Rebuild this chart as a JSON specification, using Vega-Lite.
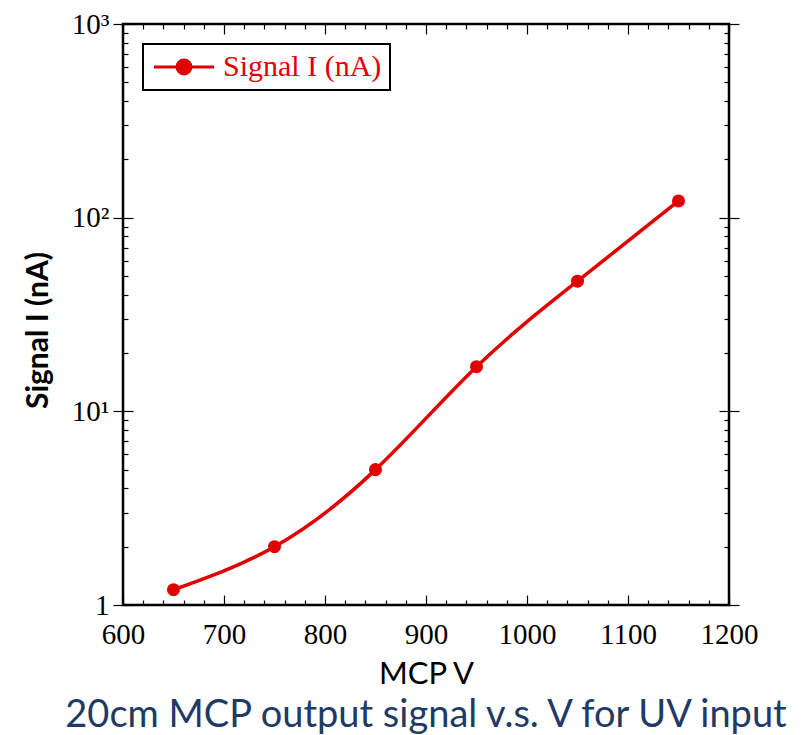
{
  "$schema": "https://vega.github.io/schema/vega-lite/v6.json",
  "autosize": {"type": "none"},
  "width": 606,
  "height": 581,
  "padding": {"left": 123, "top": 24, "right": 73, "bottom": 130},
  "background": "white",
  "title": {"text": "20cm MCP output signal v.s. V for UV input", "orient": "bottom", "anchor": "middle", "font": "Lato", "fontSize": 38, "fontWeight": "normal", "color": "#1f3a64", "offset": 8},
  "data": {"values": [
    {"v": 650, "i": 1.2, "s": "Signal I (nA)"},
    {"v": 750, "i": 2.0, "s": "Signal I (nA)"},
    {"v": 850, "i": 5.0, "s": "Signal I (nA)"},
    {"v": 950, "i": 17, "s": "Signal I (nA)"},
    {"v": 1050, "i": 47, "s": "Signal I (nA)"},
    {"v": 1150, "i": 122, "s": "Signal I (nA)"}
  ]},
  "resolve": {"axis": {"x": "independent", "y": "independent"}},
  "layer": [
    {
      "mark": {"type": "line", "interpolate": "natural", "strokeWidth": 3.5, "point": {"filled": true, "size": 170}},
      "encoding": {
        "x": {"field": "v", "type": "quantitative", "scale": {"domain": [600, 1200], "nice": false, "zero": false},
          "axis": {"orient": "bottom", "values": [600, 700, 800, 900, 1000, 1100, 1200], "format": "d", "ticks": false, "domain": false, "grid": false, "labelPadding": 15, "labelFont": "Liberation Serif", "labelFontSize": 29, "labelColor": "black", "labelFlush": false, "title": "MCP V", "titleFont": "Lato", "titleFontSize": 31, "titleFontWeight": "normal", "titleColor": "black", "titlePadding": 10}},
        "y": {"field": "i", "type": "quantitative", "scale": {"type": "log", "domain": [1, 1000], "nice": false},
          "axis": {"orient": "left", "values": [1, 10, 100, 1000], "labelExpr": "datum.value == 1 ? '1' : datum.value == 10 ? '10\u00b9' : datum.value == 100 ? '10\u00b2' : '10\u00b3'", "ticks": true, "tickSize": 10, "tickWidth": 1.2, "tickColor": "black", "domain": false, "grid": false, "labelPadding": 4, "labelFont": "Liberation Serif", "labelFontSize": 29, "labelColor": "black", "labelFlush": false, "title": "Signal I (nA)", "titleFont": "Lato", "titleFontSize": 30, "titleFontWeight": "bold", "titleColor": "black", "titlePadding": 18, "titleY": 306}},
        "color": {"field": "s", "type": "nominal", "scale": {"range": ["#e00000"]},
          "legend": {"title": null, "orient": "top-left", "offset": 20, "strokeColor": "black", "fillColor": "white", "padding": 8,
            "symbolType": "M-1,0L4,0M2.08,0A0.58,0.58,0,1,1,0.92,0A0.58,0.58,0,1,1,2.08,0Z", "symbolSize": 576, "symbolStrokeWidth": 3, "symbolFillColor": "#e00000", "symbolStrokeColor": "#e00000",
            "labelFont": "Liberation Serif", "labelFontSize": 30, "labelColor": "#e00000", "labelOffset": 42}}
      }
    },
    {
      "mark": {"type": "point", "opacity": 0},
      "encoding": {
        "x": {"field": "v", "type": "quantitative", "axis": {"orient": "bottom", "values": [600, 700, 800, 900, 1000, 1100, 1200], "tickSize": -10, "tickWidth": 1.2, "tickColor": "black", "labels": false, "domain": false, "grid": false, "title": null}},
        "y": {"field": "i", "type": "quantitative", "axis": {"orient": "left", "values": [1, 10, 100, 1000], "tickSize": -10, "tickWidth": 1.2, "tickColor": "black", "labels": false, "domain": false, "grid": false, "title": null}}
      }
    },
    {
      "mark": {"type": "point", "opacity": 0},
      "encoding": {
        "x": {"field": "v", "type": "quantitative", "axis": {"orient": "bottom", "values": [620, 640, 660, 680, 720, 740, 760, 780, 820, 840, 860, 880, 920, 940, 960, 980, 1020, 1040, 1060, 1080, 1120, 1140, 1160, 1180], "tickSize": -5, "tickWidth": 1.2, "tickColor": "black", "labels": false, "domain": false, "grid": false, "title": null}},
        "y": {"field": "i", "type": "quantitative", "axis": {"orient": "left", "values": [2, 3, 4, 5, 6, 7, 8, 9, 20, 30, 40, 50, 60, 70, 80, 90, 200, 300, 400, 500, 600, 700, 800, 900], "tickSize": -5, "tickWidth": 1.2, "tickColor": "black", "labels": false, "domain": false, "grid": false, "title": null}}
      }
    },
    {
      "mark": {"type": "point", "opacity": 0},
      "encoding": {
        "x": {"field": "v", "type": "quantitative", "axis": {"orient": "top", "values": [600, 700, 800, 900, 1000, 1100, 1200], "tickSize": -10, "tickWidth": 1.2, "tickColor": "black", "labels": false, "domain": false, "grid": false, "title": null}},
        "y": {"field": "i", "type": "quantitative", "axis": {"orient": "right", "values": [1, 10, 100, 1000], "tickSize": -10, "tickWidth": 1.2, "tickColor": "black", "labels": false, "domain": false, "grid": false, "title": null}}
      }
    },
    {
      "mark": {"type": "point", "opacity": 0},
      "encoding": {
        "x": {"field": "v", "type": "quantitative", "axis": {"orient": "top", "values": [620, 640, 660, 680, 720, 740, 760, 780, 820, 840, 860, 880, 920, 940, 960, 980, 1020, 1040, 1060, 1080, 1120, 1140, 1160, 1180], "tickSize": -5, "tickWidth": 1.2, "tickColor": "black", "labels": false, "domain": false, "grid": false, "title": null}},
        "y": {"field": "i", "type": "quantitative", "axis": {"orient": "right", "values": [2, 3, 4, 5, 6, 7, 8, 9, 20, 30, 40, 50, 60, 70, 80, 90, 200, 300, 400, 500, 600, 700, 800, 900], "tickSize": -5, "tickWidth": 1.2, "tickColor": "black", "labels": false, "domain": false, "grid": false, "title": null}}
      }
    },
    {
      "mark": {"type": "point", "opacity": 0},
      "encoding": {
        "y": {"field": "i", "type": "quantitative", "axis": {"orient": "right", "values": [1, 10, 100, 1000], "tickSize": 10, "tickWidth": 1.2, "tickColor": "black", "labels": false, "domain": false, "grid": false, "title": null}}
      }
    }
  ],
  "config": {
    "view": {"stroke": "black", "strokeWidth": 2.5},
    "legend": {"strokeWidth": 2}
  }
}
